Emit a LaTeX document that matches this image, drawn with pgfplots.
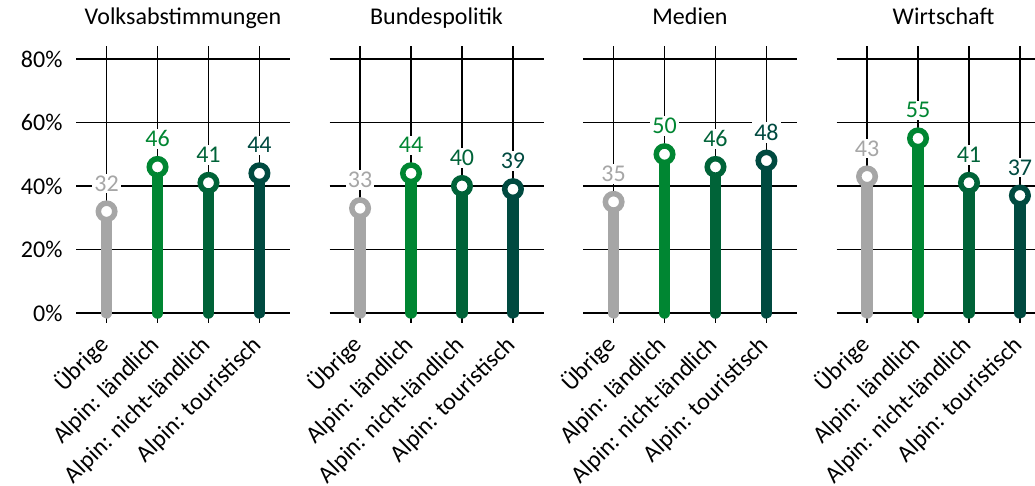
\documentclass[border=0pt]{standalone}
\usepackage{pgfplots}
\pgfplotsset{compat=1.18}
\usepackage{fontspec}
\setmainfont{Carlito}
\definecolor{cU}{HTML}{A6A6A6}
\definecolor{cL}{HTML}{008632}
\definecolor{cN}{HTML}{006338}
\definecolor{cT}{HTML}{004A40}
\newcommand\fs{\fontsize{24}{28}\selectfont}
\pgfplotsset{
  /pgf/number format/assume math mode=true,
  panel/.style={
    scale only axis, width=214pt, height=276.7pt,
    anchor=south west, clip=false,
    xmin=-0.6, xmax=3.6, ymin=-3.15, ymax=84,
    xtick={0,1,2,3}, ytick={0,20,40,60,80},
    xmajorgrids, ymajorgrids,
    grid style={black, line width=1.8pt},
    axis line style={draw=none},
    major tick length=0pt, tick style={draw=none},
    tick label style={font=\fs, text=black},
    xticklabels={Übrige, Alpin: ländlich, Alpin: nicht-ländlich, Alpin: touristisch},
    xticklabel style={xshift=3.5pt, yshift=-23pt, rotate=45, anchor=base east, inner sep=0pt},
    yticklabel style={xshift=-10pt},
    title style={at={(0.5,1)}, anchor=base, yshift=16pt, font=\fs},
    stem/.style={line width=11.5pt, line cap=round},
    dot/.style={only marks, mark=*, mark size=8.25pt,
      mark options={fill=white, line width=5.5pt},
      nodes near coords,
      nodes near coords style={anchor=center, yshift=28pt, fill=white, inner sep=2pt, font=\fs}},
  }
}
\newcommand\panel[7]{%
\begin{axis}[panel, at={(#1pt,163pt)}, title={#2}, yticklabels={#7}]
\addplot[cU, stem] coordinates {(0,0) (0,#3)};
\addplot[cL, stem] coordinates {(1,0) (1,#4)};
\addplot[cN, stem] coordinates {(2,0) (2,#5)};
\addplot[cT, stem] coordinates {(3,0) (3,#6)};
\addplot[cU, dot] coordinates {(0,#3)};
\addplot[cL, dot] coordinates {(1,#4)};
\addplot[cN, dot] coordinates {(2,#5)};
\addplot[cT, dot] coordinates {(3,#6)};
\end{axis}}
\begin{document}
\begin{tikzpicture}
\panel{76}{Volksabstimmungen}{32}{46}{41}{44}{0\%,20\%,40\%,60\%,80\%}
\panel{329.5}{Bundespolitik}{33}{44}{40}{39}{{},{},{},{},{}}
\panel{583}{Medien}{35}{50}{46}{48}{{},{},{},{},{}}
\panel{836.5}{Wirtschaft}{43}{55}{41}{37}{{},{},{},{},{}}
\pgfresetboundingbox
\path[use as bounding box] (0,0) rectangle (1035pt,486pt);
\end{tikzpicture}
\end{document}
